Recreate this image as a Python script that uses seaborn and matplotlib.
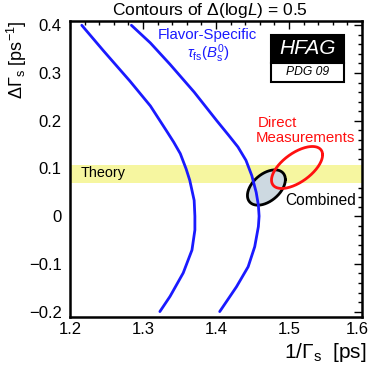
import matplotlib

matplotlib.use("Agg")

import matplotlib.pyplot as plt
import matplotlib.transforms as mtransforms
import numpy as np
import pandas as pd
import seaborn as sns
from matplotlib.patches import Rectangle
from matplotlib.ticker import MultipleLocator

# flavor-specific lifetime contours (1/Gamma_s, DeltaGamma_s)
fs_inner_x = [1.216, 1.246, 1.282, 1.310, 1.332, 1.342, 1.351, 1.359, 1.364, 1.370,
              1.371, 1.371, 1.367, 1.355, 1.337, 1.323]
fs_inner_y = [0.400, 0.346, 0.283, 0.231, 0.179, 0.155, 0.131, 0.099, 0.075, 0.033,
              0.000, -0.029, -0.071, -0.119, -0.168, -0.200]
fs_outer_x = [1.284, 1.310, 1.337, 1.370, 1.401, 1.417, 1.430, 1.441, 1.449, 1.455,
              1.458, 1.459, 1.458, 1.453, 1.444, 1.428, 1.405]
fs_outer_y = [0.400, 0.363, 0.318, 0.260, 0.200, 0.170, 0.145, 0.117, 0.085, 0.050,
              0.023, 0.000, -0.022, -0.064, -0.106, -0.148, -0.200]

# gaussian contours: mean x, mean y, sigma x, sigma y, correlation
direct_fit = [1.511, 0.102, 0.035, 0.044, 0.60]
combined_fit = [1.469, 0.060, 0.026, 0.037, 0.45]

theory_band = [0.069, 0.107]

x_ticks = [1.2, 1.3, 1.4, 1.5, 1.6]
y_ticks = [-0.2, -0.1, 0.0, 0.1, 0.2, 0.3, 0.4]
y_tick_labels = ["\u22120.2", "\u22120.1", "0", "0.1", "0.2", "0.3", "0.4"]

BLUE = "#1a1aff"
RED = "#ff1010"


def contour_frame(fit, n=200):
    mx, my, sx, sy, rho = fit
    t = np.linspace(0, 2 * np.pi, n)
    return pd.DataFrame({
        "x": mx + sx * np.cos(t),
        "y": my + sy * (rho * np.cos(t) + np.sqrt(1 - rho ** 2) * np.sin(t)),
    })


sns.set_theme(style="white")
plt.rcParams["font.family"] = ["Liberation Sans", "DejaVu Sans"]
plt.rcParams["mathtext.fontset"] = "custom"
plt.rcParams["mathtext.rm"] = "Liberation Sans"
plt.rcParams["mathtext.it"] = "Liberation Sans:italic"

fig = plt.figure(figsize=(3.69, 3.68), dpi=100)
ax = fig.add_axes([0.19, 0.139, 0.791, 0.804])

ax.axhspan(theory_band[0], theory_band[1], color="#f6f6a0", lw=0, zorder=1)

comb = contour_frame(combined_fit)
ax.fill(comb["x"], comb["y"], color="#cdd9e1", zorder=2)
sns.lineplot(data=comb, x="x", y="y", sort=False, estimator=None, color="black",
             lw=2, ax=ax, zorder=3)

direct = contour_frame(direct_fit)
sns.lineplot(data=direct, x="x", y="y", sort=False, estimator=None, color=RED,
             lw=2, ax=ax, zorder=4)

for xs, ys in [(fs_inner_x, fs_inner_y), (fs_outer_x, fs_outer_y)]:
    sns.lineplot(x=xs, y=ys, sort=False, estimator=None, color=BLUE, lw=2,
                 ax=ax, zorder=5)

ax.set_xlim(1.2, 1.6)
ax.set_ylim(-0.211, 0.409)
ax.set_xticks(x_ticks)
ax.set_xticklabels([f"{v:.1f}" for v in x_ticks])
ax.set_yticks(y_ticks)
ax.set_yticklabels(y_tick_labels)
ax.xaxis.set_minor_locator(MultipleLocator(0.02))
ax.yaxis.set_minor_locator(MultipleLocator(0.02))
ax.tick_params(which="both", direction="in", top=True, right=True, color="black",
               width=1, labelsize=12, labelcolor="black")
ax.tick_params(which="major", length=6)
ax.tick_params(which="minor", length=3)
ax.tick_params(axis="y", pad=6)
ax.tick_params(axis="x", pad=4)
for sp in ax.spines.values():
    sp.set_color("black")
    sp.set_linewidth(1.8)

# last x label sits slightly left, as in the original
last = ax.get_xticklabels()[-1]
last.set_transform(last.get_transform()
                   + mtransforms.ScaledTranslation(-5 / 100, 0, fig.dpi_scale_trans))

ax.set_xlabel("")
ax.set_ylabel("")
fig.text(0.993, 0.043, r"$1/\Gamma_{\rm s}$  [ps]", fontsize=15, ha="right",
         va="center", color="black")
fig.text(0.045, 0.945, r"$\Delta\Gamma_{\rm s}$ [ps$^{-1}$]", fontsize=13,
         rotation=90, ha="center", va="top", color="black")
fig.text(0.568, 0.972, r"Contours of $\Delta$(log$L$) = 0.5", fontsize=12.5,
         ha="center", va="center", color="black")

ax.text(1.388, 0.379, "Flavor-Specific", color=BLUE, fontsize=10.8,
        ha="center", va="center")
ax.text(1.389, 0.340, r"$\tau_{\rm fs}(B_{\rm s}^{0})$", color=BLUE, fontsize=10.8,
        ha="center", va="center")
ax.text(1.4565, 0.195, "Direct", color=RED, fontsize=10.8, ha="left", va="center")
ax.text(1.4545, 0.1635, "Measurements", color=RED, fontsize=10.8, ha="left",
        va="center")
ax.text(1.4945, 0.0335, "Combined", color="black", fontsize=11.2, ha="left",
        va="center")
ax.text(1.215, 0.090, "Theory", color="black", fontsize=10.4, ha="left",
        va="center")

ax.add_patch(Rectangle((0.688, 0.858), 0.25, 0.095, transform=ax.transAxes,
                       facecolor="black", edgecolor="black", lw=1.5, zorder=6))
ax.add_patch(Rectangle((0.688, 0.794), 0.25, 0.064, transform=ax.transAxes,
                       facecolor="white", edgecolor="black", lw=1.5, zorder=6))
ax.text(0.813, 0.906, "HFAG", transform=ax.transAxes, color="white", fontsize=15,
        style="italic", ha="center", va="center", zorder=7)
ax.text(0.813, 0.826, "PDG 09", transform=ax.transAxes, color="black",
        fontsize=8.7, style="italic", ha="center", va="center", zorder=7)

fig.savefig("out.png", dpi=100)
plt.close(fig)
